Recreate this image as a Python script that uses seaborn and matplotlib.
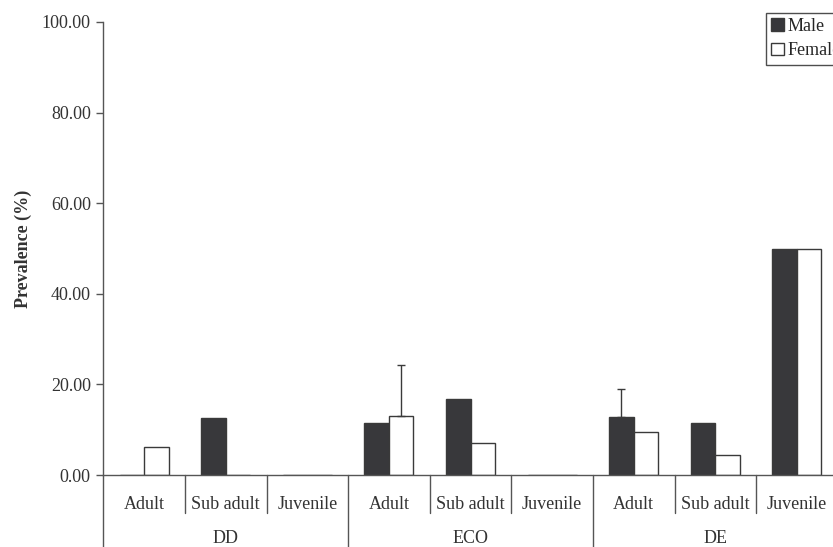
import matplotlib
matplotlib.use("Agg")
import matplotlib.pyplot as plt
import matplotlib.transforms as mtransforms
from matplotlib.patches import Patch
import numpy as np
import pandas as pd
import seaborn as sns

# Prevalence by site, age class and sex
sites = ["DD", "ECO", "DE"]
stages = ["Adult", "Sub adult", "Juvenile"]
male = [0.0, 12.5, 0.0, 11.5, 16.7, 0.0, 12.9, 11.5, 50.0]
female = [6.25, 0.0, 0.0, 13.1, 7.1, 0.0, 9.4, 4.35, 50.0]
male_err = [0, 0, 0, 0, 0, 0, 6.0, 0, 0]
female_err = [0, 0, 0, 11.2, 0, 0, 0, 0, 0]
yticks = [0, 20, 40, 60, 80, 100]

cats = [f"{s}|{a}" for s in sites for a in stages]
df = pd.DataFrame({
    "cat": cats * 2,
    "sex": ["Male"] * len(cats) + ["Female"] * len(cats),
    "value": male + female,
})

sns.set_style("white")
plt.rcParams["font.family"] = ["Liberation Serif", "DejaVu Serif"]
ink = "#333333"

fig = plt.figure(figsize=(8.33, 5.47), dpi=100)
ax = fig.add_axes([0.124, 0.1316, 0.8817, 0.8282])

sns.barplot(data=df, x="cat", y="value", hue="sex", order=cats,
            hue_order=["Male", "Female"],
            palette={"Male": "#37373b", "Female": "white"},
            edgecolor="#3a3a3a", linewidth=1.0, width=0.6,
            errorbar=None, legend=False, ax=ax)

# upper-only error bars
for cont, errs in zip(ax.containers, [male_err, female_err]):
    for bar, e in zip(cont, errs):
        if e > 0:
            xc = bar.get_x() + bar.get_width() / 2
            h = bar.get_height()
            ax.errorbar([xc], [h], yerr=[[0], [e]], fmt="none",
                        ecolor="#3a3a3a", elinewidth=1.0, capsize=3,
                        capthick=1.0)

ax.set_xlim(-0.5, len(cats) - 0.5)
ax.set_ylim(0, 100)
ax.set_yticks(yticks)
ax.set_yticklabels([f"{v:.2f}" for v in yticks], fontsize=13, color=ink)
ax.tick_params(axis="y", direction="out", length=5, width=1, color="#555555",
               left=True, pad=4)
ax.set_xticks(range(len(cats)))
ax.set_xticklabels([c.split("|")[1] for c in cats], fontsize=13, color=ink)
ax.tick_params(axis="x", length=0, pad=15)
ax.set_xlabel("")
ax.set_ylabel("Prevalence (%)", fontsize=13, fontweight="bold", color=ink,
              labelpad=7)

for side in ["top", "right"]:
    ax.spines[side].set_visible(False)
for side in ["left", "bottom"]:
    ax.spines[side].set_color("#555555")
    ax.spines[side].set_linewidth(1.0)

# category separators below the axis
trans = mtransforms.blended_transform_factory(ax.transData, ax.transAxes)
ax_h_px = 0.8282 * 547
short = -38 / ax_h_px
long = -80 / ax_h_px
for k in range(len(cats) + 1):
    xb = k - 0.5
    y1 = long if k % 3 == 0 else short
    ax.plot([xb, xb], [0, y1], transform=trans, color="#555555", lw=1.0,
            clip_on=False)

# site labels
for i, s in enumerate(sites):
    ax.text(i * 3 + 1, -63 / ax_h_px, s, transform=trans, ha="center",
            va="center", fontsize=13, color=ink)

handles = [Patch(facecolor="#37373b", edgecolor="#3a3a3a", lw=1.0, label="Male"),
           Patch(facecolor="white", edgecolor="#3a3a3a", lw=1.0, label="Female")]
fig.legend(handles=handles, loc="upper left",
           bbox_to_anchor=(766 / 833, 1 - 12.7 / 547), fontsize=13,
           frameon=True, fancybox=False, edgecolor="#222222",
           handlelength=0.7, handleheight=0.7, handletextpad=0.2,
           borderpad=0.3, labelspacing=0.4, borderaxespad=0)

fig.savefig("out.png", dpi=100)
